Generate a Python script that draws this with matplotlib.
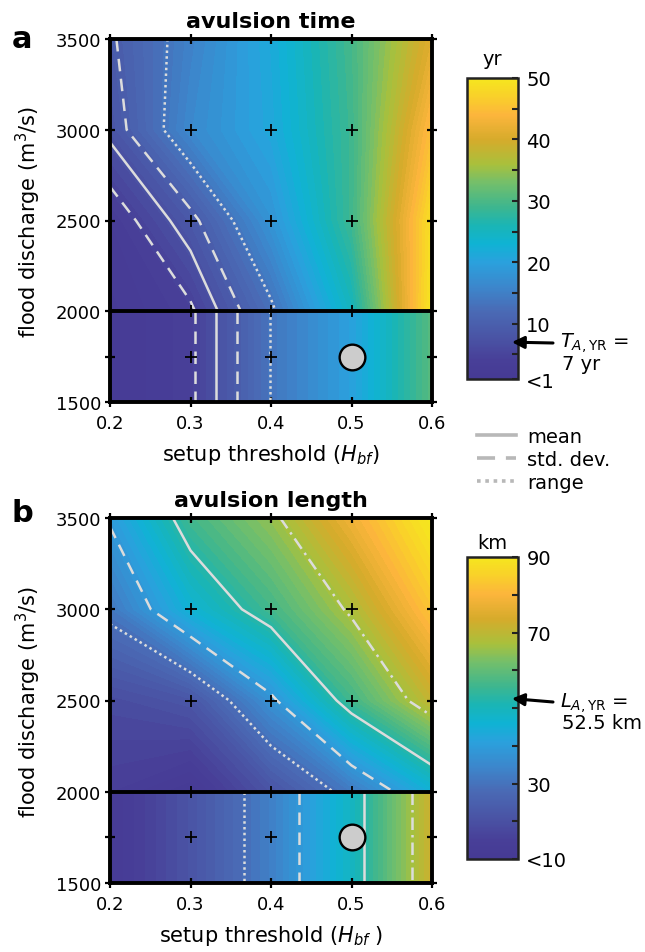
import numpy as np
import matplotlib
matplotlib.use('Agg')
import matplotlib.pyplot as plt
from matplotlib.colors import LinearSegmentedColormap, Normalize
from matplotlib.cm import ScalarMappable
from matplotlib.lines import Line2D

plt.rcParams['font.family'] = 'DejaVu Sans'

# model grid
thresholds = [0.2, 0.3, 0.4, 0.5, 0.6]
discharges = [2000, 2500, 3000, 3500]
low_discharge = [1500, 2000]   # band of the 1750 m3/s runs

# avulsion time (yr); rows follow discharges
time_upper = [[1.5, 4.0, 12.8, 25.0, 50.0],
              [2.6, 8.5, 18.0, 29.0, 49.0],
              [7.7, 16.4, 21.0, 29.0, 45.0],
              [9.0, 15.3, 21.5, 29.5, 41.0]]
time_lower = [1.5, 4.0, 13.6, 20.0, 31.0]
time_lines = [4.5, 7.0, 9.5, 13.5]          # std-, mean, std+, range max
time_styles = ['dashed', 'solid', 'dashed', 'dotted']

# avulsion length (km)
length_upper = [[14.0, 10.0, 20.8, 31.4, 45.0],
                [18.7, 21.5, 37.1, 56.0, 70.9],
                [31.0, 45.8, 56.3, 67.6, 83.0],
                [39.3, 56.2, 65.0, 78.0, 91.0]]
length_lower = [11.0, 21.0, 33.0, 49.0, 72.3]
length_lines = [29.0, 38.5, 52.5, 66.5]     # range min, std-, mean, std+
length_styles = ['dotted', 'dashed', 'solid', 'dashdot']

# simulation runs (+) and the Yellow River case (circle)
run_thresh = [0.3, 0.4, 0.3, 0.4, 0.5, 0.3, 0.4, 0.5, 0.3, 0.4, 0.5]
run_discharge = [1750, 1750, 2000, 2000, 2000, 2500, 2500, 2500, 3000, 3000, 3000]
yr_thresh, yr_discharge = 0.5, 1750

# parula-like colours
cmap = LinearSegmentedColormap.from_list('parulaish', [
    (0.000, '#463a94'), (0.061, '#483f98'), (0.143, '#4a56a6'),
    (0.224, '#4a6ab5'), (0.306, '#3c87cc'), (0.388, '#2aa1dd'),
    (0.449, '#0fb3d4'), (0.510, '#1ab5b5'), (0.571, '#3db68f'),
    (0.653, '#74bf6a'), (0.714, '#a9c03c'), (0.796, '#d6ab2b'),
    (0.878, '#fcb53c'), (0.939, '#f9d02a'), (1.000, '#f5e61e')])

line_col = '#dcdcdc'
dash_map = {'solid': '-', 'dashed': (0, (5, 3)), 'dotted': (0, (1, 1.3)),
            'dashdot': (0, (5, 2, 1, 2))}

W, H = 645, 953
fig = plt.figure(figsize=(W / 100, H / 100), dpi=100)


def fbox(l, t, r, b):
    return [l / W, 1 - b / H, (r - l) / W, (b - t) / H]


def draw_panel(ax, upper, lower, lines, styles, vmin, vmax, title, xlabel):
    norm = Normalize(vmin, vmax)
    lev = np.linspace(vmin, vmax, 61)
    ls = [dash_map[s] for s in styles]
    X, Y = np.meshgrid(thresholds, discharges)
    Z = np.array(upper)
    ax.contourf(X, Y, Z, levels=lev, cmap=cmap, norm=norm, extend='both')
    ax.contour(X, Y, Z, levels=lines, colors=line_col, linewidths=1.8, linestyles=ls)
    XL, YL = np.meshgrid(thresholds, low_discharge)
    ZL = np.vstack([lower, lower])
    ax.contourf(XL, YL, ZL, levels=lev, cmap=cmap, norm=norm, extend='both')
    ax.contour(XL, YL, ZL, levels=lines, colors=line_col, linewidths=1.8, linestyles=ls)
    ax.axhline(2000, color='k', lw=2.8, zorder=4)
    ax.plot(run_thresh, run_discharge, '+', color='k', ms=9, mew=1.3, zorder=5)
    ax.plot(yr_thresh, yr_discharge, 'o', mfc='#cccccc', mec='k', ms=18.5, mew=1.7, zorder=6)
    ax.set_xlim(0.2, 0.6)
    ax.set_ylim(1500, 3500)
    ax.set_xticks(thresholds)
    ax.set_xticklabels(['0.2', '0.3', '0.4', '0.5', '0.6'])
    ax.set_yticks([1500, 1750, 2000, 2500, 3000, 3500])
    ax.set_yticklabels(['1500', '', '2000', '2500', '3000', '3500'])
    ax.tick_params(direction='inout', length=7, width=1.6, top=True, right=True,
                   labelsize=13)
    ax.tick_params(axis='x', pad=5)
    ax.tick_params(axis='y', pad=3)
    for sp in ax.spines.values():
        sp.set_linewidth(2.8)
    ax.set_title(title, fontsize=16, fontweight='bold', y=1.0, pad=8.5)
    ax.set_xlabel(xlabel, fontsize=15, labelpad=7)
    ax.set_ylabel('flood discharge (m$^3$/s)', fontsize=15, labelpad=9)
    return norm


def draw_cbar(cax, norm, ticks, labels):
    cb = fig.colorbar(ScalarMappable(norm=norm, cmap=cmap), cax=cax, ticks=ticks)
    cb.ax.set_yticklabels(labels)
    cb.outline.set_linewidth(1.8)
    cb.outline.set_edgecolor('#222222')
    cax.tick_params(direction='in', length=4.5, width=1.5, labelsize=14, pad=6,
                    color='#222222')
    return cb


ax_a = fig.add_axes(fbox(110, 40, 432, 403))
norm_a = draw_panel(ax_a, time_upper, time_lower, time_lines, time_styles, 1, 50,
                    'avulsion time', 'setup threshold ($H_{bf}$)')
ax_b = fig.add_axes(fbox(110, 519, 432, 884))
norm_b = draw_panel(ax_b, length_upper, length_lower, length_lines, length_styles, 10, 90,
                    'avulsion length', 'setup threshold ($H_{bf}$ )')

cax_a = fig.add_axes(fbox(467, 79, 518, 380))
draw_cbar(cax_a, norm_a, [1, 5, 10, 15, 20, 25, 30, 35, 40, 45, 50],
          ['<1', '', '10', '', '20', '', '30', '', '40', '', '50'])
cax_b = fig.add_axes(fbox(467, 558, 518, 860))
draw_cbar(cax_b, norm_b, [10, 20, 30, 40, 50, 60, 70, 80, 90],
          ['<10', '', '30', '', '', '', '70', '', '90'])

fig.text(492 / W, 1 - 65 / H, 'yr', fontsize=14, ha='center', va='baseline')
fig.text(492 / W, 1 - 549 / H, 'km', fontsize=14, ha='center', va='baseline')

# Yellow River reference values
arrow = dict(arrowstyle='-|>', color='k', lw=2.2, mutation_scale=18,
             shrinkA=0, shrinkB=0)
cax_a.annotate('', xy=(0.88, 7), xycoords=cax_a.get_yaxis_transform(),
               xytext=(553, H - 344), textcoords='figure pixels', arrowprops=arrow)
cax_b.annotate('', xy=(0.88, 52.5), xycoords=cax_b.get_yaxis_transform(),
               xytext=(553, H - 703), textcoords='figure pixels', arrowprops=arrow)
fig.text(560 / W, 1 - 343 / H, r'$T_{A,\mathrm{YR}}$ =', fontsize=14, va='center')
fig.text(562 / W, 1 - 365 / H, '7 yr', fontsize=14, va='center')
fig.text(560 / W, 1 - 703 / H, r'$L_{A,\mathrm{YR}}$ =', fontsize=14, va='center')
fig.text(562 / W, 1 - 724 / H, '52.5 km', fontsize=14, va='center')

# legend for the line styles
handles = [Line2D([], [], color='#b8b8b8', lw=2.6, ls=dash_map[s]) for s in
           ['solid', 'dashed', 'dotted']]
fig.legend(handles, ['mean', 'std. dev.', 'range'], loc='upper left',
           bbox_to_anchor=(463 / W, 1 - 414 / H), frameon=False, fontsize=14,
           handlelength=2.0, handletextpad=0.6, labelspacing=0.22, borderpad=0.2)

fig.text(12 / W, 1 - 48 / H, 'a', fontsize=22, fontweight='bold', va='baseline')
fig.text(12 / W, 1 - 522 / H, 'b', fontsize=22, fontweight='bold', va='baseline')

fig.savefig('out.png', dpi=100)
